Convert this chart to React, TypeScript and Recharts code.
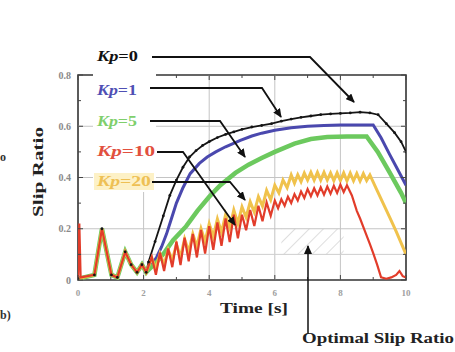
import React from 'react';
import { LineChart, Line, XAxis, YAxis, ReferenceArea, ReferenceLine } from 'recharts';

const W = 455;
const H = 352;
const PL = 78;
const PR = 406;
const PT = 75;
const PB = 280;

const xTicks = [0, 1, 2, 3, 4, 5, 6, 7, 8, 9, 10];
const xMajor = [0, 2, 4, 6, 8, 10];
const yTicks = [0, 0.1, 0.2, 0.3, 0.4, 0.5, 0.6, 0.7, 0.8];
const yMajor = [0, 0.2, 0.4, 0.6, 0.8];
const xGrid = [2, 4, 6, 8];
const yGrid = [0.2, 0.4, 0.6];

const earlyPhase = [
  { t: 0, v: 0.005 }, { t: 0.5, v: 0.02 }, { t: 0.73, v: 0.2 }, { t: 1.02, v: 0.02 },
  { t: 1.2, v: 0.01 }, { t: 1.44, v: 0.11 }, { t: 1.62, v: 0.06 }, { t: 1.8, v: 0.03 },
  { t: 1.95, v: 0.06 }, { t: 2.08, v: 0.03 },
];

const kp0 = [
  ...earlyPhase,
  { t: 2.15, v: 0.07 }, { t: 2.35, v: 0.15 }, { t: 2.6, v: 0.25 }, { t: 2.8, v: 0.33 },
  { t: 3.0, v: 0.39 }, { t: 3.2, v: 0.44 }, { t: 3.4, v: 0.48 }, { t: 3.6, v: 0.505 },
  { t: 3.8, v: 0.525 }, { t: 4.0, v: 0.54 }, { t: 4.25, v: 0.556 }, { t: 4.5, v: 0.568 },
  { t: 4.75, v: 0.578 }, { t: 5.0, v: 0.588 }, { t: 5.3, v: 0.597 }, { t: 5.6, v: 0.603 },
  { t: 5.9, v: 0.61 }, { t: 6.2, v: 0.62 }, { t: 6.5, v: 0.628 }, { t: 6.8, v: 0.635 },
  { t: 7.1, v: 0.64 }, { t: 7.4, v: 0.645 }, { t: 7.7, v: 0.648 }, { t: 8.0, v: 0.65 },
  { t: 8.3, v: 0.652 }, { t: 8.6, v: 0.655 }, { t: 8.9, v: 0.652 }, { t: 9.15, v: 0.645 },
  { t: 9.4, v: 0.61 }, { t: 9.65, v: 0.575 }, { t: 9.85, v: 0.54 }, { t: 10, v: 0.5 },
];

const kp1 = [
  ...earlyPhase,
  { t: 2.15, v: 0.04 }, { t: 2.4, v: 0.09 }, { t: 2.55, v: 0.13 }, { t: 2.7, v: 0.18 },
  { t: 2.85, v: 0.24 }, { t: 3.0, v: 0.3 }, { t: 3.2, v: 0.36 }, { t: 3.42, v: 0.415 },
  { t: 3.7, v: 0.455 }, { t: 3.94, v: 0.48 }, { t: 4.2, v: 0.5 }, { t: 4.5, v: 0.52 },
  { t: 4.95, v: 0.545 }, { t: 5.3, v: 0.562 }, { t: 5.6, v: 0.573 }, { t: 6.0, v: 0.584 },
  { t: 6.5, v: 0.594 }, { t: 7.0, v: 0.6 }, { t: 7.5, v: 0.603 }, { t: 8.0, v: 0.605 },
  { t: 8.5, v: 0.605 }, { t: 9.0, v: 0.605 }, { t: 9.24, v: 0.555 }, { t: 9.5, v: 0.49 },
  { t: 9.75, v: 0.43 }, { t: 10, v: 0.37 },
];

const kp5 = [
  ...earlyPhase,
  { t: 2.15, v: 0.04 }, { t: 2.4, v: 0.07 }, { t: 2.65, v: 0.11 }, { t: 2.9, v: 0.155 },
  { t: 3.3, v: 0.21 }, { t: 3.64, v: 0.27 }, { t: 4.0, v: 0.325 }, { t: 4.34, v: 0.37 },
  { t: 4.8, v: 0.418 }, { t: 5.2, v: 0.45 }, { t: 5.6, v: 0.476 }, { t: 6.0, v: 0.5 },
  { t: 6.6, v: 0.532 }, { t: 7.1, v: 0.55 }, { t: 7.6, v: 0.558 }, { t: 8.2, v: 0.56 },
  { t: 8.8, v: 0.56 }, { t: 9.14, v: 0.5 }, { t: 9.5, v: 0.42 }, { t: 9.85, v: 0.34 },
  { t: 10, v: 0.3 },
];

const kp20 = [
  ...earlyPhase,
  { t: 2.25, v: 0.085 }, { t: 2.375, v: 0.043 }, { t: 2.5, v: 0.102 }, { t: 2.625, v: 0.06 },
  { t: 2.75, v: 0.118 }, { t: 2.875, v: 0.077 }, { t: 3.0, v: 0.14 }, { t: 3.125, v: 0.09 },
  { t: 3.25, v: 0.16 }, { t: 3.375, v: 0.11 }, { t: 3.5, v: 0.18 }, { t: 3.625, v: 0.13 },
  { t: 3.75, v: 0.2 }, { t: 3.875, v: 0.15 }, { t: 4.0, v: 0.22 }, { t: 4.125, v: 0.169 },
  { t: 4.25, v: 0.238 }, { t: 4.375, v: 0.186 }, { t: 4.5, v: 0.255 }, { t: 4.625, v: 0.204 },
  { t: 4.75, v: 0.273 }, { t: 4.875, v: 0.221 }, { t: 5.0, v: 0.285 }, { t: 5.125, v: 0.245 },
  { t: 5.25, v: 0.305 }, { t: 5.375, v: 0.265 }, { t: 5.5, v: 0.325 }, { t: 5.625, v: 0.288 },
  { t: 5.75, v: 0.35 }, { t: 5.875, v: 0.313 }, { t: 6.0, v: 0.37 }, { t: 6.125, v: 0.34 },
  { t: 6.25, v: 0.39 }, { t: 6.375, v: 0.36 }, { t: 6.5, v: 0.41 }, { t: 6.6, v: 0.378 },
  { t: 6.7, v: 0.411 }, { t: 6.8, v: 0.384 }, { t: 6.9, v: 0.417 }, { t: 7.0, v: 0.39 },
  { t: 7.1, v: 0.42 }, { t: 7.2, v: 0.39 }, { t: 7.3, v: 0.42 }, { t: 7.4, v: 0.39 },
  { t: 7.5, v: 0.42 }, { t: 7.6, v: 0.39 }, { t: 7.7, v: 0.418 }, { t: 7.8, v: 0.388 },
  { t: 7.9, v: 0.418 }, { t: 8.0, v: 0.388 }, { t: 8.1, v: 0.418 }, { t: 8.2, v: 0.387 },
  { t: 8.3, v: 0.417 }, { t: 8.4, v: 0.387 }, { t: 8.5, v: 0.416 }, { t: 8.6, v: 0.386 },
  { t: 8.7, v: 0.415 }, { t: 8.8, v: 0.388 }, { t: 8.9, v: 0.41 }, { t: 9.1, v: 0.355 },
  { t: 9.3, v: 0.3 }, { t: 9.5, v: 0.245 }, { t: 9.7, v: 0.19 }, { t: 9.85, v: 0.145 },
  { t: 10, v: 0.1 },
];

const kp10 = [
  { t: 0, v: 0 }, { t: 0.04, v: 0.22 }, { t: 0.08, v: 0.01 },
  ...earlyPhase.slice(1),
  { t: 2.25, v: 0.09 }, { t: 2.375, v: 0.02 }, { t: 2.5, v: 0.107 }, { t: 2.625, v: 0.035 },
  { t: 2.75, v: 0.123 }, { t: 2.875, v: 0.05 }, { t: 3.0, v: 0.15 }, { t: 3.125, v: 0.058 },
  { t: 3.25, v: 0.165 }, { t: 3.375, v: 0.073 }, { t: 3.5, v: 0.18 }, { t: 3.625, v: 0.088 },
  { t: 3.75, v: 0.195 }, { t: 3.875, v: 0.103 }, { t: 4.0, v: 0.21 }, { t: 4.125, v: 0.118 },
  { t: 4.25, v: 0.225 }, { t: 4.375, v: 0.133 }, { t: 4.5, v: 0.24 }, { t: 4.625, v: 0.148 },
  { t: 4.75, v: 0.255 }, { t: 4.875, v: 0.163 }, { t: 5.0, v: 0.255 }, { t: 5.125, v: 0.194 },
  { t: 5.25, v: 0.273 }, { t: 5.375, v: 0.211 }, { t: 5.5, v: 0.29 }, { t: 5.625, v: 0.229 },
  { t: 5.75, v: 0.303 }, { t: 5.875, v: 0.251 }, { t: 6.0, v: 0.31 }, { t: 6.1, v: 0.28 },
  { t: 6.2, v: 0.315 }, { t: 6.3, v: 0.29 }, { t: 6.4, v: 0.325 }, { t: 6.5, v: 0.3 },
  { t: 6.6, v: 0.335 }, { t: 6.7, v: 0.31 }, { t: 6.8, v: 0.345 }, { t: 6.9, v: 0.32 },
  { t: 7.0, v: 0.355 }, { t: 7.1, v: 0.327 }, { t: 7.2, v: 0.358 }, { t: 7.3, v: 0.33 },
  { t: 7.4, v: 0.362 }, { t: 7.5, v: 0.333 }, { t: 7.6, v: 0.365 }, { t: 7.7, v: 0.337 },
  { t: 7.8, v: 0.368 }, { t: 7.9, v: 0.34 }, { t: 8.0, v: 0.372 }, { t: 8.1, v: 0.343 },
  { t: 8.2, v: 0.37 }, { t: 8.35, v: 0.33 }, { t: 8.5, v: 0.27 }, { t: 8.6, v: 0.24 },
  { t: 8.75, v: 0.19 }, { t: 8.9, v: 0.14 }, { t: 9.0, v: 0.105 }, { t: 9.12, v: 0.06 },
  { t: 9.24, v: 0.01 }, { t: 9.4, v: 0.005 }, { t: 9.55, v: 0.01 }, { t: 9.7, v: 0.02 },
  { t: 9.8, v: 0.035 }, { t: 9.9, v: 0.015 }, { t: 10, v: 0.01 },
];

const SERIF = '"Liberation Serif", "DejaVu Serif", serif';

function YTick(props: any) {
  const { y, payload } = props;
  const v = payload.value;
  const major = yMajor.some((m) => Math.abs(m - v) < 1e-9);
  const len = major ? 5 : 3;
  return (
    <g>
      <line x1={PL} x2={PL + len} y1={y} y2={y} stroke="#444" strokeWidth={1} />
      <line x1={PR} x2={PR - len} y1={y} y2={y} stroke="#444" strokeWidth={1} />
      {major && (
        <text x={PL - 7} y={y + 3.5} textAnchor="end" fontSize={10} fontWeight="bold" fill="#8a8a8a" fontFamily={SERIF}>
          {v === 0 ? '0' : v.toFixed(1)}
        </text>
      )}
    </g>
  );
}

function XTick(props: any) {
  const { x, payload } = props;
  const v = payload.value;
  const major = xMajor.includes(v);
  const len = major ? 5 : 3;
  return (
    <g>
      <line x1={x} x2={x} y1={PB} y2={PB - len} stroke="#444" strokeWidth={1} />
      <line x1={x} x2={x} y1={PT} y2={PT + len} stroke="#444" strokeWidth={1} />
      {major && (
        <text x={x} y={PB + 16} textAnchor="middle" fontSize={9} fontWeight="bold" fill="#a0a0a0" fontFamily={SERIF}>
          {v}
        </text>
      )}
    </g>
  );
}

const labels = [
  { text: '0', color: '#111111', y: 61, len: 41 },
  { text: '1', color: '#4f4fb4', y: 95, len: 40 },
  { text: '5', color: '#7fcf6c', y: 126, len: 40 },
  { text: '10', color: '#e2503e', y: 156, len: 58 },
  { text: '20', color: '#eec054', y: 186, len: 54 },
];

const leaders = [
  '152,57 310,57 354,102',
  '150,88 262,88 281,117',
  '150,121 220,121 245,157',
  '157,152 183,152 235,225',
  '152,182 230,182 245,200',
];

function Overlay() {
  return (
    <svg width={W} height={H} style={{ position: 'absolute', left: 0, top: 0, pointerEvents: 'none' }}>
      <defs>
        <marker id="ah" markerWidth={9} markerHeight={8} refX={8} refY={4} orient="auto" markerUnits="userSpaceOnUse">
          <path d="M0,0 L9,4 L0,8 z" fill="#111" />
        </marker>
      </defs>
      <rect x={93} y={46} width={63} height={146} fill="#ffffff" />
      <rect x={94} y={173} width={60} height={17} fill="#fdf1c6" />
      {labels.map((l) => (
        <text key={l.text} x={97} y={l.y} fontSize={14} fontWeight="bold" fill={l.color} fontFamily={SERIF}
          textLength={l.len} lengthAdjust="spacingAndGlyphs">
          <tspan fontStyle="italic">Kp</tspan>={l.text}
        </text>
      ))}
      {leaders.map((p, i) => (
        <polyline key={i} points={p} fill="none" stroke="#111" strokeWidth={1.8} markerEnd="url(#ah)" />
      ))}
      <polyline points="308,334 308,246" fill="none" stroke="#111" strokeWidth={1.5} markerEnd="url(#ah)" />
      <text x={0} y={0} transform="translate(43,172) rotate(-90)" textAnchor="middle" fontSize={14} fontWeight="bold"
        fill="#222" fontFamily={SERIF} textLength={90} lengthAdjust="spacingAndGlyphs">
        Slip Ratio
      </text>
      <text x={220} y={313} fontSize={14} fontWeight="bold" fill="#222" fontFamily={SERIF} textLength={68}
        lengthAdjust="spacingAndGlyphs">
        Time [s]
      </text>
      <text x={302} y={343} fontSize={14} fontWeight="bold" fill="#222" fontFamily={SERIF} textLength={152}
        lengthAdjust="spacingAndGlyphs">
        Optimal Slip Ratio
      </text>
      <text x={0} y={161} fontSize={12} fontWeight="bold" fill="#333" fontFamily={SERIF}>o</text>
      <text x={0} y={319} fontSize={12} fontWeight="bold" fill="#333" fontFamily={SERIF}>b)</text>
    </svg>
  );
}

export default function App() {
  return (
    <div style={{ position: 'absolute', left: 0, top: 0, width: W, height: H, background: '#fff' }}>
      <LineChart width={W} height={H} margin={{ top: PT, right: W - PR, left: 0, bottom: H - PB - 20 }}>
        <defs>
          <pattern id="hatch" width={10} height={10} patternUnits="userSpaceOnUse" patternTransform="rotate(45)">
            <line x1={0} y1={0} x2={0} y2={10} stroke="#bdbdbd" strokeWidth={1} />
          </pattern>
        </defs>
        <XAxis type="number" dataKey="t" domain={[0, 10]} ticks={xTicks} axisLine={false} tickLine={false}
          tick={(p: any) => <XTick {...p} />} height={20} interval={0} allowDataOverflow />
        <YAxis type="number" domain={[0, 0.8]} ticks={yTicks} axisLine={false} tickLine={false}
          tick={(p: any) => <YTick {...p} />} width={PL} interval={0} allowDataOverflow />
        {xGrid.map((g) => (
          <ReferenceLine key={'x' + g} x={g} stroke="#c4c4c4" strokeWidth={1} />
        ))}
        {yGrid.map((g) => (
          <ReferenceLine key={'y' + g} y={g} stroke="#c4c4c4" strokeWidth={1} />
        ))}
        <ReferenceLine y={0.1} stroke="#cfcfcf" strokeWidth={1} />
        <ReferenceArea x1={6.2} x2={8.1} y1={0.1} y2={0.2} fill="url(#hatch)" fillOpacity={1} stroke="none" />
        <Line data={kp0} dataKey="v" type="linear" stroke="#151515" strokeWidth={1.8}
          dot={{ r: 1.4, fill: '#151515', stroke: 'none' }} isAnimationActive={false} />
        <Line data={kp1} dataKey="v" type="linear" stroke="#4a48ae" strokeWidth={3} dot={false} isAnimationActive={false} />
        <Line data={kp5} dataKey="v" type="linear" stroke="#6cc95e" strokeWidth={4.5} dot={false} isAnimationActive={false} />
        <Line data={kp20} dataKey="v" type="linear" stroke="#f0c24c" strokeWidth={3} dot={false} isAnimationActive={false} />
        <Line data={kp10} dataKey="v" type="linear" stroke="#e23c2a" strokeWidth={2.2} dot={false} isAnimationActive={false} />
        <ReferenceArea x1={0} x2={10} y1={0} y2={0.8} fill="none" stroke="#333" strokeWidth={1.6} />
      </LineChart>
      <Overlay />
    </div>
  );
}
